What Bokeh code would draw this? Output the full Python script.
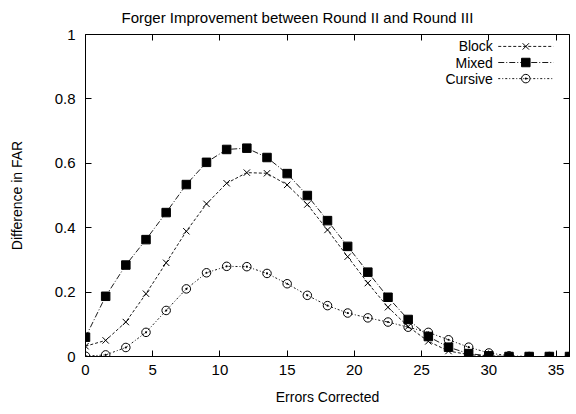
from bokeh.plotting import figure
from bokeh.models import LinearAxis, FixedTicker, Range1d, CustomLabelingPolicy
from bokeh.core.properties import value
from bokeh.embed import file_html
from bokeh.resources import INLINE

FONT = "Liberation Sans"

errors = [0, 1.5, 3, 4.5, 6, 7.5, 9, 10.5, 12, 13.5, 15, 16.5, 18, 19.5, 21,
          22.5, 24, 25.5, 27, 28.5, 30, 31.5, 33, 34.5, 36]
block = [0.032, 0.050, 0.107, 0.195, 0.291, 0.389, 0.474, 0.538, 0.571, 0.569,
         0.533, 0.472, 0.393, 0.310, 0.228, 0.153, 0.093, 0.047, 0.017, 0.006,
         0.001, 0.0, 0.0, 0.0, 0.0]
mixed = [0.060, 0.187, 0.284, 0.363, 0.447, 0.534, 0.603, 0.643, 0.647, 0.618,
         0.568, 0.500, 0.422, 0.342, 0.262, 0.184, 0.115, 0.062, 0.029, 0.009,
         0.002, 0.0, 0.0, 0.0, 0.0]
cursive = [0.001, 0.005, 0.028, 0.075, 0.143, 0.210, 0.260, 0.280, 0.279, 0.258,
           0.226, 0.190, 0.158, 0.135, 0.120, 0.107, 0.091, 0.075, 0.052, 0.029,
           0.011, 0.002, 0.0, 0.0, 0.0]
series_names = ["Block", "Mixed", "Cursive"]
x_ticks = [0, 5, 10, 15, 20, 25, 30, 35]
y_ticks = [0, 0.2, 0.4, 0.6, 0.8, 1]

p = figure(width=576, height=414, output_backend="svg", toolbar_location=None,
           x_range=Range1d(0, 36), y_range=Range1d(0, 1),
           min_border_left=85, min_border_right=7, min_border_top=34,
           min_border_bottom=58, x_axis_location=None, y_axis_location=None)

p.title.text = "Forger Improvement between Round II and Round III"
p.title.align = "left"
p.title.offset = 36
p.title.standoff = 9
p.title.text_line_height = 0.7
p.title.text_font = FONT
p.title.text_font_size = "15px"
p.title.text_font_style = "normal"
p.title.text_color = "black"

p.outline_line_color = "black"
p.outline_line_width = 1
p.grid.visible = False
p.background_fill_color = "white"
p.border_fill_color = "white"


def make_axis(ticks, labels=True, label_text=None):
    ax = LinearAxis(ticker=FixedTicker(ticks=ticks))
    ax.axis_line_color = None
    ax.major_tick_in = 6
    ax.major_tick_out = 0
    ax.minor_tick_line_color = None
    ax.major_tick_line_color = "black"
    if labels:
        ax.major_label_text_font = FONT
        ax.major_label_text_font_size = "15px"
        ax.major_label_text_color = "black"
    else:
        # mirrored ticks only (gnuplot style), labels hidden
        ax.major_label_policy = CustomLabelingPolicy(code="return []")
        ax.major_label_text_font_size = "1px"
        ax.major_label_standoff = 0
    if label_text:
        ax.axis_label = label_text
        ax.axis_label_text_font = FONT
        ax.axis_label_text_font_size = "14px"
        ax.axis_label_text_font_style = "normal"
        ax.axis_label_text_color = "black"
    return ax


xb = make_axis(x_ticks, True, "Errors Corrected")
xb.major_label_standoff = 8
xb.axis_label_standoff = 11
p.add_layout(xb, "below")

yl = make_axis(y_ticks, True, "Difference in FAR")
yl.major_label_standoff = 10
yl.axis_label_standoff = 27
p.add_layout(yl, "left")

p.add_layout(make_axis(x_ticks, False), "above")
p.add_layout(make_axis(y_ticks, False), "right")

styles = [
    (block, "3 2", "x", 9, "black", None),
    (mixed, "6 2 1 2", "square", 8.5, "black", "black"),
    (cursive, "2 2 1 2", "circle_dot", 8.5, "black", None),
]
for ys, dash, marker, size, lc, fc in styles:
    p.line(errors, ys, line_color="black", line_width=0.9, line_dash=dash)
    p.scatter(errors, ys, marker=marker, size=size, line_color=lc,
              fill_color=fc, line_width=1)

# custom gnuplot-style legend (text right-aligned, sample on the right)
leg_y = [0.963, 0.913, 0.863]
p.text(x=[30.3] * 3, y=leg_y, text=series_names, text_align="right",
       text_baseline="middle", text_font=value(FONT), text_font_size="14px",
       text_color="black")
for (ys, dash, marker, size, lc, fc), ly in zip(styles, leg_y):
    p.line([30.7, 34.8], [ly, ly], line_color="black", line_width=0.9,
           line_dash=dash)
    p.scatter([32.75], [ly], marker=marker, size=size, line_color=lc,
              fill_color=fc, line_width=1)

open("out.html", "w").write(file_html(p, INLINE))
